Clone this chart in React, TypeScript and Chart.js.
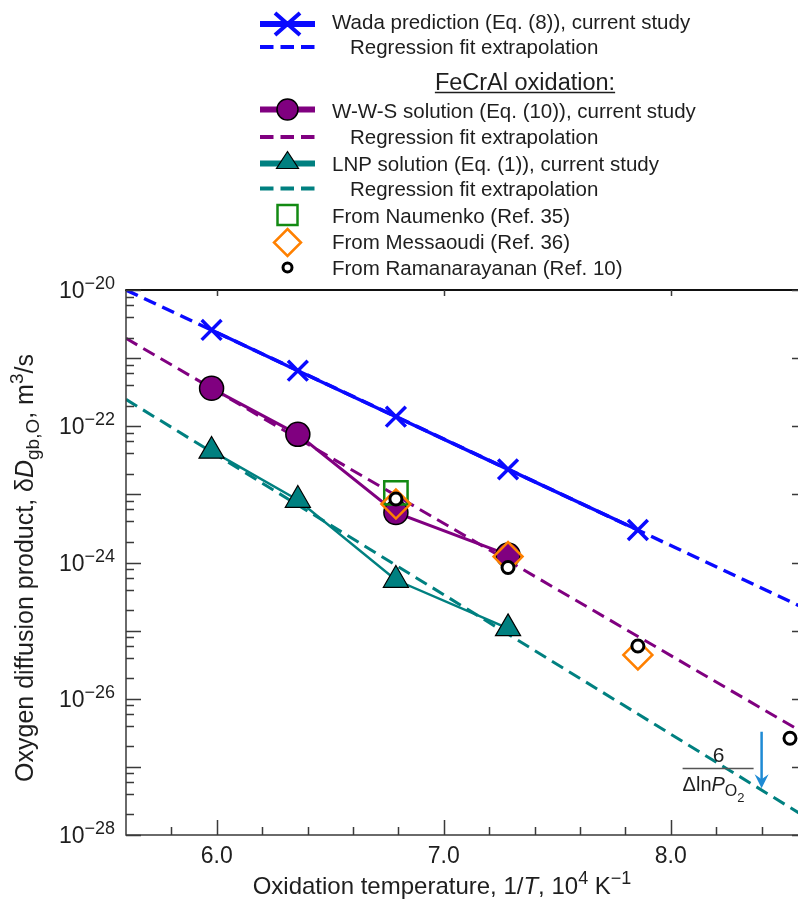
import React, { useEffect, useRef } from "react";
import { Chart, registerables } from "chart.js";

Chart.register(...registerables);

// Inverse oxidation temperature, 10^4 K^-1 (1400, 1300, 1200, 1100, 1000 °C)
const invTemp = [5.977, 6.357, 6.789, 7.283, 7.855];

// Oxygen diffusion products, m^3/s
const wadaPrediction = [2.59e-21, 6.53e-22, 1.38e-22, 2.33e-23, 3.0e-24];
const wwsSolution = [3.6e-22, 7.6e-23, 5.4e-24, 1.29e-24];
const lnpSolution = [4.34e-23, 8.26e-24, 5.53e-25, 1.08e-25];

// Regression fit lines, evaluated at the ends of the axis
const fitX = [5.6, 8.6];
const wadaFit = [1.0e-20, 2.05e-25];
const wwsFit = [1.95e-21, 2.95e-27];
const lnpFit = [2.48e-22, 1.78e-28];

// Literature values
const naumenkoX = [6.789];
const naumenkoY = [1.05e-23];
const messaoudiX = [6.789, 7.283, 7.855];
const messaoudiY = [7.2e-24, 1.22e-24, 4.4e-26];
const ramanX = [6.789, 7.283, 7.855, 8.525];
const ramanY = [8.55e-24, 8.45e-25, 5.94e-26, 2.63e-27];

// ΔlnP(O2) arrow: x position and start/end values
const arrowX = 8.4;
const arrowY = [3.28e-27, 4.84e-28];

// Axes
const xRange = [5.6, 8.6];
const yRange = [1e-28, 1e-20];
const xMajorTicks = [6.0, 7.0, 8.0];
const xTickLabels = ["6.0", "7.0", "8.0"];
const xMinorTicks = [5.8, 6.2, 6.4, 6.6, 6.8, 7.2, 7.4, 7.6, 7.8, 8.2, 8.4];
const yDecades = [-28, -27, -26, -25, -24, -23, -22, -21, -20];
const yLabelExponents = [-20, -22, -24, -26, -28];
const yMinorMultipliers = [2, 4, 6, 8];

const BLUE = "#0a0aff";
const PURPLE = "#800080";
const TEAL = "#008080";
const GREEN = "#138a13";
const ORANGE = "#ff8000";
const ARROW = "#1e8ad4";
const INK = "#1e1e1e";
const AXIS = "#3a3a3a";

const FAMILY = '"Liberation Sans", Arial, Helvetica, sans-serif';
const font = (size: number, italic = false) =>
  `${italic ? "italic " : ""}${size}px ${FAMILY}`;

type Seg = { t: string; size: number; italic?: boolean; dy?: number };

function segsWidth(ctx: CanvasRenderingContext2D, segs: Seg[]) {
  let w = 0;
  for (const s of segs) {
    ctx.font = font(s.size, s.italic);
    w += ctx.measureText(s.t).width;
  }
  return w;
}

function drawSegs(
  ctx: CanvasRenderingContext2D,
  segs: Seg[],
  x: number,
  y: number,
  align: "left" | "center" | "right"
) {
  const w = segsWidth(ctx, segs);
  let cx = align === "left" ? x : align === "center" ? x - w / 2 : x - w;
  ctx.textAlign = "left";
  ctx.textBaseline = "alphabetic";
  for (const s of segs) {
    ctx.font = font(s.size, s.italic);
    ctx.fillText(s.t, cx, y + (s.dy || 0));
    cx += ctx.measureText(s.t).width;
  }
  return w;
}

const pts = (xs: number[], ys: number[]) => xs.map((x, i) => ({ x, y: ys[i] }));

// Legend symbols
function legendLine(ctx: CanvasRenderingContext2D, y: number, color: string, dashed: boolean) {
  ctx.save();
  ctx.strokeStyle = color;
  ctx.lineWidth = dashed ? 4 : 6;
  if (dashed) ctx.setLineDash([13.5, 7]);
  ctx.beginPath();
  ctx.moveTo(260, y);
  ctx.lineTo(315, y);
  ctx.stroke();
  ctx.restore();
}

const LEGEND_SIZE = 20.5;

const decorations = {
  id: "decorations",
  afterDatasetsDraw(chart: any) {
    const { ctx, chartArea: a, scales } = chart;
    const xs = scales.x;
    const ys = scales.y;
    ctx.save();

    // Frame
    ctx.strokeStyle = AXIS;
    ctx.lineWidth = 1.5;
    ctx.beginPath();
    ctx.moveTo(a.left, a.top);
    ctx.lineTo(a.left, a.bottom);
    ctx.lineTo(a.right, a.bottom);
    ctx.lineTo(a.right, a.top);
    ctx.stroke();
    ctx.strokeStyle = "#111";
    ctx.lineWidth = 2;
    ctx.beginPath();
    ctx.moveTo(a.left - 0.75, a.top);
    ctx.lineTo(a.right, a.top);
    ctx.stroke();

    // Ticks
    ctx.strokeStyle = AXIS;
    ctx.lineWidth = 1.5;
    ctx.beginPath();
    for (const e of yDecades) {
      const py = Math.round(ys.getPixelForValue(Math.pow(10, e))) + 0.5;
      ctx.moveTo(a.left, py);
      ctx.lineTo(a.left + 15, py);
      ctx.moveTo(a.right, py);
      ctx.lineTo(a.right - 15, py);
      if (e < -20) {
        for (const m of yMinorMultipliers) {
          const my = Math.round(ys.getPixelForValue(m * Math.pow(10, e))) + 0.5;
          ctx.moveTo(a.left, my);
          ctx.lineTo(a.left + 8, my);
        }
      }
    }
    for (const v of xMajorTicks) {
      const px = Math.round(xs.getPixelForValue(v)) + 0.5;
      ctx.moveTo(px, a.bottom);
      ctx.lineTo(px, a.bottom - 15);
      ctx.moveTo(px, a.top);
      ctx.lineTo(px, a.top + 6);
    }
    for (const v of xMinorTicks) {
      const px = Math.round(xs.getPixelForValue(v)) + 0.5;
      ctx.moveTo(px, a.bottom);
      ctx.lineTo(px, a.bottom - 8);
    }
    ctx.stroke();

    // Tick labels
    ctx.fillStyle = INK;
    yLabelExponents.forEach((e) => {
      const py = ys.getPixelForValue(Math.pow(10, e));
      drawSegs(
        ctx,
        [
          { t: "10", size: 23 },
          { t: "\u2212" + String(-e), size: 18, dy: -9 },
        ],
        115,
        py + 8,
        "right"
      );
    });
    xMajorTicks.forEach((v, i) => {
      const px = xs.getPixelForValue(v);
      drawSegs(ctx, [{ t: xTickLabels[i], size: 23 }], px, 863, "center");
    });

    // Axis titles
    drawSegs(
      ctx,
      [
        { t: "Oxidation temperature, 1/", size: 24 },
        { t: "T", size: 24, italic: true },
        { t: ", 10", size: 24 },
        { t: "4", size: 18, dy: -10 },
        { t: " K", size: 24 },
        { t: "\u22121", size: 18, dy: -10 },
      ],
      442,
      894,
      "center"
    );
    ctx.save();
    ctx.translate(33, 568);
    ctx.rotate(-Math.PI / 2);
    drawSegs(
      ctx,
      [
        { t: "Oxygen diffusion product, \u03b4", size: 25 },
        { t: "D", size: 25, italic: true },
        { t: "gb,O", size: 19, dy: 6 },
        { t: ", m", size: 25 },
        { t: "3", size: 19, dy: -10 },
        { t: "/s", size: 25 },
      ],
      0,
      0,
      "center"
    );
    ctx.restore();

    // ΔlnP(O2) annotation
    const ax = xs.getPixelForValue(arrowX);
    const ay0 = ys.getPixelForValue(arrowY[0]);
    const ay1 = ys.getPixelForValue(arrowY[1]);
    ctx.strokeStyle = ARROW;
    ctx.fillStyle = ARROW;
    ctx.lineWidth = 2.5;
    ctx.beginPath();
    ctx.moveTo(ax, ay0);
    ctx.lineTo(ax, ay1 - 6);
    ctx.stroke();
    ctx.beginPath();
    ctx.moveTo(ax, ay1);
    ctx.lineTo(ax - 7, ay1 - 14);
    ctx.lineTo(ax, ay1 - 9);
    ctx.lineTo(ax + 7, ay1 - 14);
    ctx.closePath();
    ctx.fill();

    ctx.fillStyle = INK;
    drawSegs(ctx, [{ t: "6", size: 21 }], ax - 43, 762, "center");
    ctx.strokeStyle = "#555";
    ctx.lineWidth = 1.5;
    ctx.beginPath();
    ctx.moveTo(ax - 79, 768.5);
    ctx.lineTo(ax - 8, 768.5);
    ctx.stroke();
    const w1 = drawSegs(
      ctx,
      [
        { t: "\u0394ln", size: 20 },
        { t: "P", size: 20, italic: true },
        { t: "O", size: 16, dy: 5 },
      ],
      ax - 79,
      791,
      "left"
    );
    drawSegs(ctx, [{ t: "2", size: 13, dy: 11 }], ax - 79 + w1, 791, "left");

    // Legend
    ctx.fillStyle = INK;
    const textX = 332;
    const regX = 350;
    // Wada
    legendLine(ctx, 24, BLUE, false);
    ctx.save();
    ctx.strokeStyle = BLUE;
    ctx.lineWidth = 4;
    ctx.beginPath();
    ctx.moveTo(275, 13);
    ctx.lineTo(300, 35);
    ctx.moveTo(300, 13);
    ctx.lineTo(275, 35);
    ctx.stroke();
    ctx.restore();
    drawSegs(ctx, [{ t: "Wada prediction (Eq. (8)), current study", size: LEGEND_SIZE }], textX, 29, "left");
    legendLine(ctx, 47, BLUE, true);
    drawSegs(ctx, [{ t: "Regression fit extrapolation", size: LEGEND_SIZE }], regX, 54, "left");

    // Header
    const hw = drawSegs(ctx, [{ t: "FeCrAl oxidation:", size: 23.5 }], 525, 89.5, "center");
    ctx.strokeStyle = INK;
    ctx.lineWidth = 1.5;
    ctx.beginPath();
    ctx.moveTo(525 - hw / 2, 92.5);
    ctx.lineTo(525 + hw / 2, 92.5);
    ctx.stroke();

    // W-W-S
    legendLine(ctx, 109.5, PURPLE, false);
    ctx.beginPath();
    ctx.arc(287.5, 109.5, 10.5, 0, Math.PI * 2);
    ctx.fillStyle = PURPLE;
    ctx.fill();
    ctx.strokeStyle = "#000";
    ctx.lineWidth = 1.5;
    ctx.stroke();
    ctx.fillStyle = INK;
    drawSegs(ctx, [{ t: "W-W-S solution (Eq. (10)), current study", size: LEGEND_SIZE }], textX, 117.5, "left");
    legendLine(ctx, 137, PURPLE, true);
    drawSegs(ctx, [{ t: "Regression fit extrapolation", size: LEGEND_SIZE }], regX, 144, "left");

    // LNP
    legendLine(ctx, 163.5, TEAL, false);
    ctx.beginPath();
    ctx.moveTo(287.5, 151.5);
    ctx.lineTo(298.5, 168.5);
    ctx.lineTo(276.5, 168.5);
    ctx.closePath();
    ctx.fillStyle = TEAL;
    ctx.fill();
    ctx.strokeStyle = "#000";
    ctx.lineWidth = 1.2;
    ctx.stroke();
    ctx.fillStyle = INK;
    drawSegs(ctx, [{ t: "LNP solution (Eq. (1)), current study", size: LEGEND_SIZE }], textX, 170.5, "left");
    legendLine(ctx, 188.5, TEAL, true);
    drawSegs(ctx, [{ t: "Regression fit extrapolation", size: LEGEND_SIZE }], regX, 195.5, "left");

    // Literature markers
    ctx.strokeStyle = GREEN;
    ctx.lineWidth = 2.5;
    ctx.strokeRect(277.5, 205, 20, 20);
    drawSegs(ctx, [{ t: "From Naumenko (Ref. 35)", size: LEGEND_SIZE }], textX, 222.5, "left");

    ctx.strokeStyle = ORANGE;
    ctx.beginPath();
    ctx.moveTo(287.5, 229);
    ctx.lineTo(301, 242.5);
    ctx.lineTo(287.5, 256);
    ctx.lineTo(274, 242.5);
    ctx.closePath();
    ctx.stroke();
    drawSegs(ctx, [{ t: "From Messaoudi (Ref. 36)", size: LEGEND_SIZE }], textX, 249, "left");

    ctx.beginPath();
    ctx.arc(287.5, 267.5, 4.5, 0, Math.PI * 2);
    ctx.fillStyle = "#fff";
    ctx.fill();
    ctx.strokeStyle = "#000";
    ctx.lineWidth = 3;
    ctx.stroke();
    ctx.fillStyle = INK;
    drawSegs(ctx, [{ t: "From Ramanarayanan (Ref. 10)", size: LEGEND_SIZE }], textX, 274.5, "left");

    ctx.restore();
  },
};

export default function App() {
  const canvasRef = useRef<HTMLCanvasElement | null>(null);

  useEffect(() => {
    const canvas = canvasRef.current;
    if (!canvas) return;
    const dash = [13, 7];
    const chart = new Chart(canvas, {
      type: "scatter",
      data: {
        datasets: [
          {
            label: "From Ramanarayanan (Ref. 10)",
            data: pts(ramanX, ramanY),
            showLine: false,
            pointStyle: "circle",
            pointRadius: 6,
            pointBackgroundColor: "#ffffff",
            pointBorderColor: "#000000",
            pointBorderWidth: 3,
            order: 0,
          },
          {
            label: "From Messaoudi (Ref. 36)",
            data: pts(messaoudiX, messaoudiY),
            showLine: false,
            pointStyle: "rectRot",
            pointRadius: 14.5,
            pointBackgroundColor: "rgba(0,0,0,0)",
            pointBorderColor: ORANGE,
            pointBorderWidth: 2.5,
            order: 1,
          },
          {
            label: "From Naumenko (Ref. 35)",
            data: pts(naumenkoX, naumenkoY),
            showLine: false,
            pointStyle: "rect",
            pointRadius: 16.5,
            pointBackgroundColor: "rgba(0,0,0,0)",
            pointBorderColor: GREEN,
            pointBorderWidth: 2.5,
            order: 2,
          },
          {
            label: "W-W-S solution (Eq. (10)), current study",
            data: pts(invTemp.slice(0, wwsSolution.length), wwsSolution),
            showLine: true,
            borderColor: PURPLE,
            borderWidth: 3,
            pointStyle: "circle",
            pointRadius: 12,
            pointBackgroundColor: PURPLE,
            pointBorderColor: "#000000",
            pointBorderWidth: 1.5,
            order: 3,
          },
          {
            label: "LNP solution (Eq. (1)), current study",
            data: pts(invTemp.slice(0, lnpSolution.length), lnpSolution),
            showLine: true,
            borderColor: TEAL,
            borderWidth: 2.5,
            pointStyle: "triangle",
            pointRadius: 14.5,
            pointBackgroundColor: TEAL,
            pointBorderColor: "#000000",
            pointBorderWidth: 1.2,
            order: 4,
          },
          {
            label: "Wada prediction (Eq. (8)), current study",
            data: pts(invTemp, wadaPrediction),
            showLine: true,
            borderColor: BLUE,
            borderWidth: 3.5,
            pointStyle: "crossRot",
            pointRadius: 14,
            pointBackgroundColor: BLUE,
            pointBorderColor: BLUE,
            pointBorderWidth: 3.5,
            order: 5,
          },
          {
            label: "W-W-S regression fit extrapolation",
            data: pts(fitX, wwsFit),
            showLine: true,
            borderColor: PURPLE,
            borderWidth: 3,
            borderDash: dash,
            pointRadius: 0,
            order: 6,
          },
          {
            label: "LNP regression fit extrapolation",
            data: pts(fitX, lnpFit),
            showLine: true,
            borderColor: TEAL,
            borderWidth: 3,
            borderDash: dash,
            pointRadius: 0,
            order: 7,
          },
          {
            label: "Wada regression fit extrapolation",
            data: pts(fitX, wadaFit),
            showLine: true,
            borderColor: BLUE,
            borderWidth: 3.5,
            borderDash: dash,
            pointRadius: 0,
            order: 8,
          },
        ],
      },
      options: {
        responsive: false,
        maintainAspectRatio: false,
        devicePixelRatio: 1,
        animation: false,
        layout: { padding: { left: 126, top: 290, right: 23, bottom: 71 } },
        plugins: {
          legend: { display: false },
          tooltip: { enabled: false },
        },
        scales: {
          x: { type: "linear", min: xRange[0], max: xRange[1], display: false },
          y: { type: "logarithmic", min: yRange[0], max: yRange[1], display: false },
        },
      },
      plugins: [decorations],
    });
    return () => chart.destroy();
  }, []);

  return (
    <div
      style={{
        position: "fixed",
        left: 0,
        top: 0,
        width: 798,
        height: 906,
        overflow: "hidden",
        background: "#ffffff",
      }}
    >
      <canvas
        ref={canvasRef}
        width={830}
        height={906}
        style={{ display: "block", width: 830, height: 906 }}
      />
    </div>
  );
}
